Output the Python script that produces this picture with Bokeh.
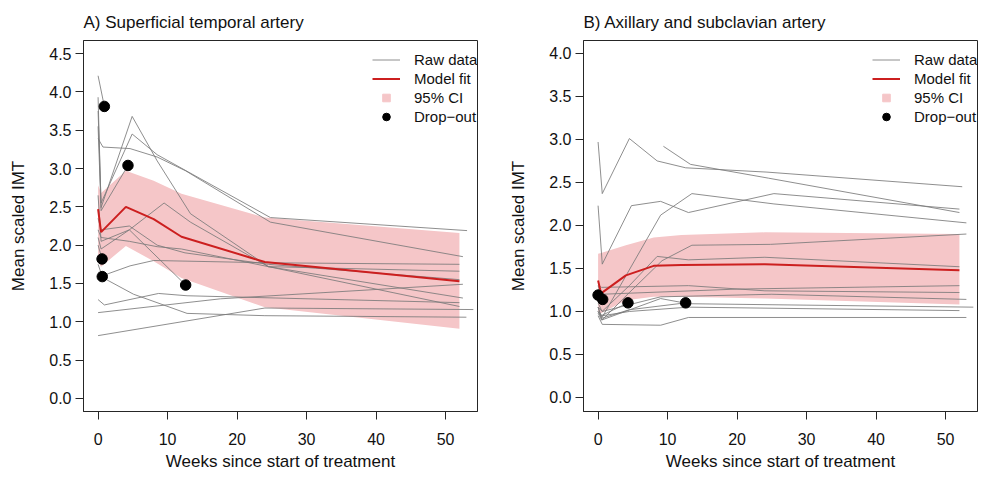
from bokeh.plotting import figure
from bokeh.layouts import row
from bokeh.models import FixedTicker, Range1d, Legend, LegendItem
from bokeh.embed import file_html
from bokeh.resources import INLINE

FONT = "Liberation Sans"

# ---------------- Panel A: Superficial temporal artery ----------------
A_title = "A) Superficial temporal artery"
A_fit_weeks = [0, 0.43, 4, 8, 12, 24, 52]
A_fit_imt = [2.47, 2.17, 2.50, 2.34, 2.11, 1.78, 1.53]
A_ci_low = [1.78, 1.72, 1.99, 1.79, 1.57, 1.19, 0.91]
A_ci_high = [2.78, 2.68, 2.97, 2.84, 2.67, 2.36, 2.16]

A_raw_weeks = [
    [0, 0.9],
    [0, 0.43, 4.9, 8.5, 13.3, 24.5, 52.5],
    [0, 0.7, 4.6, 8.5, 12.6, 24.8, 52.5],
    [0, 0.43, 4.9, 8.5, 24.8, 53.1],
    [0, 0.43, 4.3],
    [0, 0.43, 4.5, 9.5, 13.3, 24.5, 52],
    [0, 0.43, 4.5, 8.5, 12.5, 24.5, 52],
    [0, 0.43, 4.5, 12.6],
    [0, 0.57],
    [0, 0.6],
    [0, 0.6, 4.6, 8, 24.5, 52],
    [0, 0.6, 5.1, 12.8, 24, 53],
    [0, 0.9, 8.7, 12.8, 52],
    [0, 24, 54],
    [0, 17.6, 52.5],
    [0, 0.43, 4.5, 8.5, 12, 24.5, 52],
]
A_raw_imt = [
    [4.21, 3.81],
    [3.93, 2.49, 3.68, 3.10, 2.41, 1.72, 1.31],
    [3.39, 3.28, 3.26, 3.15, 2.97, 2.30, 1.85],
    [3.75, 2.55, 3.45, 3.18, 2.36, 2.19],
    [3.55, 2.45, 3.04],
    [2.65, 2.05, 2.20, 2.55, 2.30, 1.72, 1.20],
    [2.35, 2.20, 2.25, 2.00, 1.90, 1.75, 1.55],
    [2.10, 1.95, 2.20, 1.48],
    [2.00, 1.82],
    [1.75, 1.59],
    [1.65, 1.60, 1.73, 1.80, 1.77, 1.75],
    [1.62, 1.58, 1.36, 1.11, 1.08, 1.06],
    [1.29, 1.22, 1.37, 1.34, 1.25],
    [0.82, 1.18, 1.16],
    [1.12, 1.30, 1.49],
    [2.20, 2.10, 2.05, 1.98, 1.95, 1.72, 1.66],
]
A_drop_weeks = [0.9, 4.3, 0.57, 0.6, 12.6]
A_drop_imt = [3.81, 3.04, 1.82, 1.59, 1.48]
A_yticks = [0.0, 0.5, 1.0, 1.5, 2.0, 2.5, 3.0, 3.5, 4.0, 4.5]

# ---------------- Panel B: Axillary and subclavian artery ----------------
B_title = "B) Axillary and subclavian artery"
B_fit_weeks = [0, 0.43, 4, 8, 12, 24, 52]
B_fit_imt = [1.36, 1.21, 1.42, 1.53, 1.54, 1.55, 1.48]
B_ci_low = [1.00, 0.98, 1.13, 1.17, 1.17, 1.15, 1.08]
B_ci_high = [1.67, 1.68, 1.77, 1.86, 1.89, 1.92, 1.90]

B_raw_weeks = [
    [0, 0.6, 4.5, 8.5, 12.6, 24.3, 52.4],
    [9.4, 13.3, 24.5, 52],
    [0, 0.6, 4.8, 9, 13, 25.3, 52],
    [0, 0.57, 9, 13.5, 25.3, 53],
    [0, 0.57, 4.5, 9.2, 13.5, 24.8, 53],
    [0, 0.57, 4.5, 8.5, 13, 24, 52],
    [0, 0.5, 13, 24, 52],
    [0, 0.5, 20, 52],
    [0, 0.6, 9, 25, 53],
    [0, 0.5, 9, 13, 54],
    [0, 0.6, 9, 13, 53],
    [0, 0.6, 4.5, 13, 52],
    [0, 0.66],
    [0, 0.43, 4.3],
    [0, 0.5, 4.5, 12.6],
]
B_raw_imt = [
    [2.97, 2.37, 3.01, 2.75, 2.67, 2.62, 2.45],
    [2.92, 2.71, 2.55, 2.15],
    [2.23, 1.55, 2.23, 2.28, 2.15, 2.37, 2.19],
    [1.00, 0.93, 2.12, 2.37, 2.25, 2.03],
    [1.05, 0.90, 1.22, 1.59, 1.77, 1.78, 1.90],
    [1.10, 1.00, 1.30, 1.64, 1.60, 1.63, 1.52],
    [1.30, 1.28, 1.30, 1.24, 1.22],
    [1.26, 1.20, 1.26, 1.30],
    [1.05, 1.00, 1.17, 1.20, 1.14],
    [0.98, 0.90, 1.15, 1.09, 1.05],
    [0.95, 0.85, 0.84, 0.93, 0.93],
    [1.00, 0.95, 1.00, 1.05, 1.01],
    [1.30, 1.14],
    [1.05, 0.95, 1.10],
    [1.00, 0.92, 1.02, 1.10],
]
B_drop_weeks = [0, 0.66, 4.3, 12.6]
B_drop_imt = [1.19, 1.14, 1.10, 1.10]
B_yticks = [0.0, 0.5, 1.0, 1.5, 2.0, 2.5, 3.0, 3.5, 4.0]

x_ticks = [0, 10, 20, 30, 40, 50]
x_label = "Weeks since start of treatment"
y_label = "Mean scaled IMT"
legend_labels = ["Raw data", "Model fit", "95% CI", "Drop\u2212out"]

RAW_COLOR = "#7a7a7a"
FIT_COLOR = "#cc1f1f"
CI_COLOR = "#f5c6c8"
AX_COLOR = "#262626"


def make_panel(title, fit_w, fit_v, lo, hi, raw_w, raw_v, drop_w, drop_v,
               yticks, y_range, width, border_left, border_right):
    p = figure(width=width, height=477,
               x_range=Range1d(-2.1, 54.6), y_range=Range1d(*y_range),
               output_backend="svg", toolbar_location=None,
               min_border_left=border_left, min_border_right=border_right,
               min_border_top=40, min_border_bottom=66)
    p.grid.visible = False
    p.outline_line_color = AX_COLOR
    p.outline_line_width = 1
    p.background_fill_color = "white"
    p.border_fill_color = "white"

    p.title.text = title
    p.title.text_font = FONT
    p.title.text_font_size = "17px"
    p.title.text_font_style = "normal"
    p.title.text_color = "#111111"
    p.title.align = "left"
    p.title.offset = 0
    p.title.standoff = 18

    p.varea(x=fit_w, y1=lo, y2=hi, fill_color=CI_COLOR, fill_alpha=1.0)
    raw = p.multi_line(xs=raw_w, ys=raw_v, line_color=RAW_COLOR, line_width=1,
                       line_alpha=0.85)
    fit = p.line(fit_w, fit_v, line_color=FIT_COLOR, line_width=2)
    dots = p.scatter(drop_w, drop_v, marker="circle", size=10.5,
                     fill_color="black", line_color="black")
    # legend key only: a point placed far outside the visible range
    ci_key = p.scatter(x=[-100], y=[-100], marker="square", size=13,
                       fill_color=CI_COLOR, line_color=CI_COLOR)

    legend = Legend(items=[
        LegendItem(label=legend_labels[0], renderers=[raw]),
        LegendItem(label=legend_labels[1], renderers=[fit]),
        LegendItem(label=legend_labels[2], renderers=[ci_key]),
        LegendItem(label=legend_labels[3], renderers=[dots]),
    ], location=(289, 285))
    legend.label_text_font = FONT
    legend.label_text_font_size = "15px"
    legend.label_text_color = "#111111"
    legend.label_height = 19
    legend.glyph_height = 19
    legend.glyph_width = 28
    legend.label_standoff = 14
    legend.spacing = 0
    legend.padding = 0
    legend.margin = 0
    legend.border_line_alpha = 0
    legend.background_fill_alpha = 0
    p.add_layout(legend)

    for ax in (p.xaxis[0], p.yaxis[0]):
        ax.axis_line_color = AX_COLOR
        ax.major_tick_line_color = AX_COLOR
        ax.minor_tick_line_color = None
        ax.major_tick_out = 8
        ax.major_tick_in = 0
        ax.major_label_text_font = FONT
        ax.major_label_text_font_size = "16px"
        ax.major_label_text_color = "#111111"
        ax.axis_label_text_font = FONT
        ax.axis_label_text_font_size = "17px"
        ax.axis_label_text_font_style = "normal"
        ax.axis_label_text_color = "#111111"

    p.xaxis.ticker = FixedTicker(ticks=x_ticks)
    p.xaxis.major_label_standoff = 13
    p.xaxis.axis_label = x_label
    p.xaxis.axis_label_standoff = 4

    p.yaxis.ticker = FixedTicker(ticks=yticks)
    p.yaxis.major_label_overrides = {t: f"{t:.1f}" for t in yticks}
    p.yaxis.major_label_orientation = "horizontal"
    p.yaxis.major_label_standoff = 4
    p.yaxis.axis_label = y_label
    p.yaxis.axis_label_standoff = 18
    return p


pA = make_panel(A_title, A_fit_weeks, A_fit_imt, A_ci_low, A_ci_high,
                A_raw_weeks, A_raw_imt, A_drop_weeks, A_drop_imt,
                A_yticks, (-0.17, 4.67), 494, 83, 17)
pB = make_panel(B_title, B_fit_weeks, B_fit_imt, B_ci_low, B_ci_high,
                B_raw_weeks, B_raw_imt, B_drop_weeks, B_drop_imt,
                B_yticks, (-0.163, 4.15), 495, 89, 12)

layout = row(pA, pB)
open("out.html", "w").write(file_html(layout, INLINE))
